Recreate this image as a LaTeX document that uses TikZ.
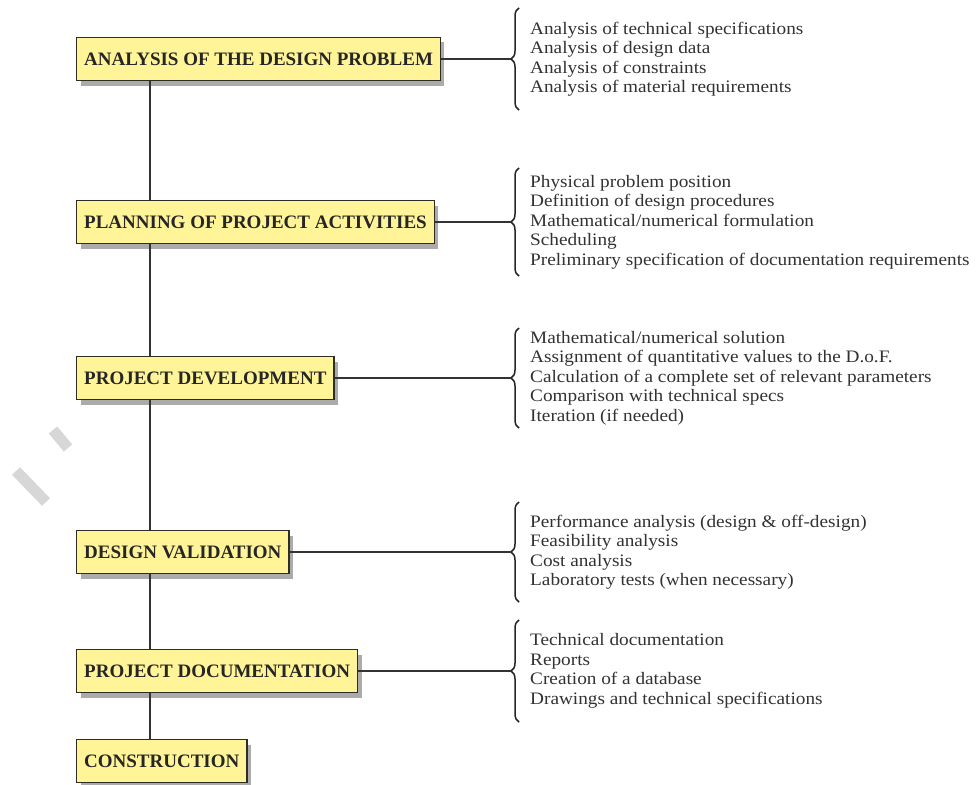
\documentclass[tikz,border=0pt]{standalone}
\usepackage{fontspec}
\setmainfont{Liberation Serif}
\newfontfamily\itemfont[FakeStretch=1.1]{Liberation Serif}
\usetikzlibrary{shadows,decorations.pathreplacing}
\definecolor{boxfill}{RGB}{255,245,152}
\definecolor{boxline}{RGB}{45,45,35}
\definecolor{txt}{RGB}{50,50,50}
\definecolor{wm}{RGB}{215,215,215}
\begin{document}
\begin{tikzpicture}[x=1pt,y=-1pt,
  stage/.style={draw=boxline, line width=1.4pt, fill=boxfill, anchor=west,
    minimum height=43pt, inner xsep=7.5pt, inner ysep=0pt,
    font=\fontsize{19}{22}\selectfont\bfseries, text=black!85,
    drop shadow={shadow xshift=4pt, shadow yshift=-5pt, fill=black!60, opacity=0.55}},
  items/.style={anchor=west, align=left, inner sep=0pt,
    font=\itemfont\fontsize{17.5}{19.5}\selectfont, text=txt},
  conn/.style={draw=black!80, line width=1.4pt},
  brc/.style={draw=black!85, line width=1.5pt, decorate,
    decoration={brace, amplitude=8pt}}]
\useasboundingbox (0,0) rectangle (976,784);
\fill[white] (0,0) rectangle (976,784);
% faint marks
\draw[wm, line width=11pt] (53,430) -- (68,448);
\draw[wm, line width=11pt] (16,471) -- (46,502);
% stages
\node[stage] (b1) at (76,59)  {ANALYSIS OF THE DESIGN PROBLEM};
\node[stage] (b2) at (76,222) {PLANNING OF PROJECT ACTIVITIES};
\node[stage] (b3) at (76,378) {PROJECT DEVELOPMENT};
\node[stage] (b4) at (76,552) {DESIGN VALIDATION};
\node[stage] (b5) at (76,671) {PROJECT DOCUMENTATION};
\node[stage] (b6) at (76,761) {CONSTRUCTION};
\coordinate (sp) at (150,0);
\draw[conn] (b1.south -| sp) -- (b2.north -| sp);
\draw[conn] (b2.south -| sp) -- (b3.north -| sp);
\draw[conn] (b3.south -| sp) -- (b4.north -| sp);
\draw[conn] (b4.south -| sp) -- (b5.north -| sp);
\draw[conn] (b5.south -| sp) -- (b6.north -| sp);
% braces
\coordinate (g1b) at (519,110); \coordinate (g1t) at (519,8);   \coordinate (t1) at (511,59);
\coordinate (g2b) at (519,276); \coordinate (g2t) at (519,168); \coordinate (t2) at (511,222);
\coordinate (g3b) at (519,428); \coordinate (g3t) at (519,328); \coordinate (t3) at (511,378);
\coordinate (g4b) at (519,602); \coordinate (g4t) at (519,502); \coordinate (t4) at (511,552);
\coordinate (g5b) at (519,722); \coordinate (g5t) at (519,620); \coordinate (t5) at (511,671);
\draw[brc] (g1b) -- (g1t);
\draw[brc] (g2b) -- (g2t);
\draw[brc] (g3b) -- (g3t);
\draw[brc] (g4b) -- (g4t);
\draw[brc] (g5b) -- (g5t);
\draw[conn] (b1.east) -- (t1);
\draw[conn] (b2.east) -- (t2);
\draw[conn] (b3.east) -- (t3);
\draw[conn] (b4.east) -- (t4);
\draw[conn] (b5.east) -- (t5);
% item lists
\node[items] (l1) at (530,59) {Analysis of technical specifications\\Analysis of design data\\Analysis of constraints\\Analysis of material requirements};
\node[items] (l2) at (530,222) {Physical problem position\\Definition of design procedures\\Mathematical/numerical formulation\\Scheduling\\Preliminary specification of documentation requirements};
\node[items] (l3) at (530,378) {Mathematical/numerical solution\\Assignment of quantitative values to the D.o.F.\\Calculation of a complete set of relevant parameters\\Comparison with technical specs\\Iteration (if needed)};
\node[items] (l4) at (530,552) {Performance analysis (design \& off-design)\\Feasibility analysis\\Cost analysis\\Laboratory tests (when necessary)};
\node[items] (l5) at (530,671) {Technical documentation\\Reports\\Creation of a database\\Drawings and technical specifications};
\end{tikzpicture}
\end{document}
